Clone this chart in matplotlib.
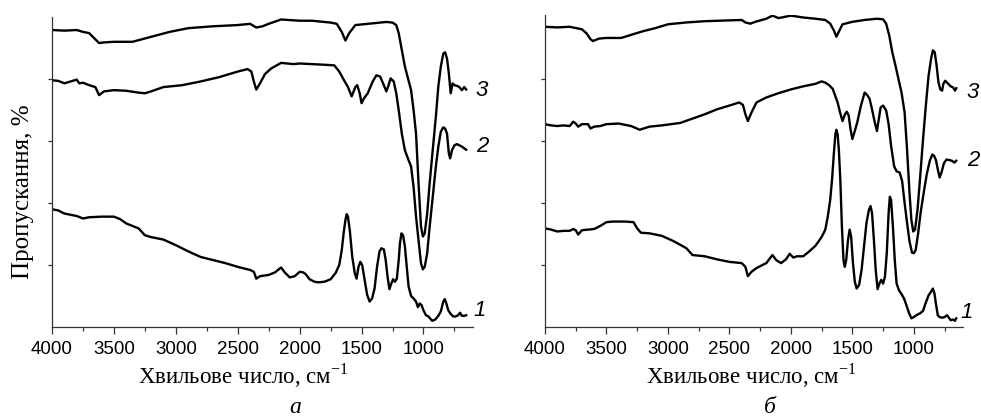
import matplotlib
matplotlib.use('Agg')
import matplotlib.pyplot as plt
from matplotlib.ticker import MultipleLocator, FixedLocator
import numpy as np

plt.rcParams['font.family'] = 'Liberation Sans'
plt.rcParams['mathtext.fontset'] = 'custom'
plt.rcParams['mathtext.rm'] = 'Liberation Serif'

# panel a
a3_x = [4000, 3900, 3800, 3750, 3700, 3660, 3620, 3580, 3500, 3350, 3200, 3050, 2900, 2700, 2500, 2400, 2350, 2300,
        2250, 2150, 2000, 1900, 1750, 1700, 1660, 1630, 1600, 1550, 1450, 1300, 1250, 1220, 1200, 1175, 1150, 1125,
        1100, 1080, 1060, 1040, 1020, 1005, 990, 970, 950, 925, 900, 880, 860, 840, 825, 810, 795, 780, 765, 750,
        730, 710, 690, 670, 655]
a3_y = [4.79, 4.78, 4.79, 4.76, 4.74, 4.66, 4.58, 4.59, 4.60, 4.60, 4.68, 4.76, 4.82, 4.85, 4.87, 4.89, 4.83, 4.85,
        4.89, 4.96, 4.94, 4.94, 4.91, 4.89, 4.76, 4.62, 4.74, 4.87, 4.89, 4.92, 4.91, 4.87, 4.74, 4.47, 4.20, 4.01,
        3.82, 3.50, 3.12, 2.32, 1.62, 1.46, 1.51, 1.83, 2.32, 2.86, 3.39, 3.88, 4.20, 4.41, 4.43, 4.33, 4.09, 3.77,
        3.93, 3.90, 3.89, 3.87, 3.82, 3.87, 3.83]

a2_x = [4000, 3950, 3900, 3850, 3800, 3780, 3750, 3700, 3650, 3620, 3580, 3500, 3400, 3300, 3250, 3200, 3100, 2950,
        2800, 2650, 2500, 2420, 2390, 2370, 2350, 2320, 2280, 2230, 2150, 2050, 2000, 1900, 1800, 1720, 1680, 1650,
        1610, 1580, 1550, 1535, 1515, 1500, 1480, 1450, 1410, 1380, 1350, 1320, 1300, 1285, 1265, 1240, 1220, 1200,
        1175, 1150, 1120, 1100, 1080, 1060, 1040, 1020, 1005, 990, 970, 950, 925, 900, 880, 860, 840, 825, 810, 795,
        785, 770, 750, 730, 710, 690, 670, 655]
a2_y = [3.98, 3.97, 3.93, 3.96, 3.99, 3.93, 3.94, 3.90, 3.87, 3.74, 3.80, 3.82, 3.81, 3.78, 3.77, 3.80, 3.87, 3.90,
        3.96, 4.03, 4.12, 4.16, 4.12, 3.96, 3.83, 3.93, 4.08, 4.17, 4.26, 4.24, 4.25, 4.24, 4.23, 4.22, 4.12, 4.01,
        3.87, 3.72, 3.87, 3.90, 3.77, 3.61, 3.69, 3.77, 3.96, 4.06, 4.04, 3.90, 3.80, 3.88, 4.01, 3.96, 3.77, 3.50,
        3.12, 2.85, 2.69, 2.59, 2.26, 1.78, 1.40, 1.03, 0.93, 0.97, 1.19, 1.62, 2.10, 2.59, 2.91, 3.15, 3.22, 3.20,
        3.12, 2.80, 2.72, 2.85, 2.93, 2.95, 2.93, 2.91, 2.88, 2.86]

a1_x = [4000, 3950, 3900, 3850, 3800, 3750, 3700, 3600, 3500, 3450, 3400, 3350, 3300, 3250, 3200, 3100, 3000, 2900,
        2800, 2700, 2600, 2500, 2400, 2370, 2350, 2320, 2250, 2200, 2150, 2120, 2080, 2040, 2000, 1970, 1950, 1920,
        1880, 1850, 1800, 1750, 1710, 1680, 1660, 1645, 1630, 1620, 1610, 1595, 1575, 1555, 1540, 1525, 1510, 1495,
        1475, 1455, 1435, 1415, 1395, 1375, 1355, 1340, 1320, 1305, 1290, 1275, 1260, 1245, 1230, 1215, 1200, 1190,
        1178, 1165, 1150, 1135, 1120, 1100, 1080, 1060, 1045, 1030, 1015, 1000, 980, 960, 930, 905, 880, 860, 840,
        828, 815, 800, 780, 760, 740, 720, 705, 690, 670, 655]
a1_y = [1.90, 1.88, 1.83, 1.81, 1.79, 1.75, 1.77, 1.78, 1.78, 1.74, 1.67, 1.63, 1.59, 1.48, 1.45, 1.41, 1.32, 1.22,
        1.13, 1.08, 1.03, 0.97, 0.92, 0.89, 0.78, 0.82, 0.84, 0.88, 0.96, 0.88, 0.80, 0.82, 0.89, 0.88, 0.85, 0.77,
        0.73, 0.72, 0.73, 0.77, 0.87, 1.00, 1.24, 1.51, 1.73, 1.82, 1.78, 1.56, 1.13, 0.87, 0.78, 0.97, 1.05, 1.00,
        0.76, 0.52, 0.41, 0.46, 0.62, 0.97, 1.22, 1.27, 1.25, 1.08, 0.81, 0.61, 0.70, 0.77, 0.73, 0.78, 1.08, 1.35,
        1.51, 1.48, 1.30, 0.97, 0.65, 0.50, 0.46, 0.41, 0.32, 0.38, 0.35, 0.27, 0.19, 0.17, 0.10, 0.12, 0.18, 0.25,
        0.41, 0.45, 0.38, 0.27, 0.21, 0.17, 0.17, 0.19, 0.23, 0.18, 0.18, 0.19]

# panel b
b3_x = [4000, 3900, 3800, 3750, 3700, 3660, 3630, 3610, 3560, 3500, 3380, 3300, 3200, 3100, 3000, 2850, 2700, 2550,
        2400, 2370, 2330, 2290, 2200, 2150, 2100, 2000, 1900, 1800, 1720, 1680, 1650, 1630, 1610, 1580, 1500, 1400,
        1300, 1250, 1225, 1200, 1175, 1150, 1125, 1100, 1075, 1055, 1035, 1020, 1005, 990, 970, 950, 925, 900, 880,
        860, 845, 830, 815, 800, 785, 770, 760, 745, 720, 700, 680, 665, 655]
b3_y = [4.84, 4.83, 4.84, 4.82, 4.80, 4.73, 4.64, 4.61, 4.65, 4.66, 4.66, 4.71, 4.77, 4.82, 4.88, 4.91, 4.93, 4.94,
        4.95, 4.91, 4.89, 4.92, 4.97, 5.02, 4.98, 5.02, 4.99, 4.97, 4.95, 4.89, 4.78, 4.68, 4.76, 4.88, 4.92, 4.95,
        4.97, 4.96, 4.89, 4.70, 4.43, 4.22, 4.00, 3.78, 3.46, 2.86, 2.16, 1.73, 1.54, 1.57, 1.89, 2.38, 3.03, 3.62,
        4.05, 4.32, 4.46, 4.43, 4.22, 3.95, 3.83, 3.81, 3.92, 3.97, 3.92, 3.88, 3.86, 3.81, 3.85]

b2_x = [4000, 3950, 3900, 3850, 3800, 3770, 3750, 3730, 3700, 3650, 3630, 3600, 3550, 3500, 3400, 3300, 3230, 3150,
        3050, 2900, 2800, 2700, 2600, 2500, 2420, 2390, 2370, 2350, 2320, 2280, 2200, 2100, 2000, 1900, 1800, 1750,
        1720, 1690, 1660, 1640, 1620, 1600, 1580, 1560, 1545, 1530, 1515, 1500, 1480, 1460, 1430, 1400, 1380, 1360,
        1340, 1320, 1300, 1285, 1270, 1250, 1225, 1205, 1185, 1160, 1140, 1115, 1095, 1075, 1055, 1035, 1015, 1000,
        985, 965, 945, 920, 895, 870, 850, 835, 820, 805, 790, 775, 755, 735, 710, 690, 670, 655]
b2_y = [3.27, 3.25, 3.24, 3.25, 3.24, 3.31, 3.28, 3.23, 3.27, 3.27, 3.20, 3.23, 3.24, 3.27, 3.28, 3.24, 3.18, 3.23,
        3.25, 3.29, 3.36, 3.43, 3.51, 3.57, 3.62, 3.58, 3.43, 3.32, 3.46, 3.62, 3.70, 3.77, 3.83, 3.88, 3.92, 3.96,
        3.94, 3.90, 3.84, 3.73, 3.62, 3.46, 3.32, 3.43, 3.47, 3.41, 3.19, 3.03, 3.16, 3.30, 3.57, 3.78, 3.74, 3.68,
        3.51, 3.32, 3.16, 3.35, 3.54, 3.57, 3.49, 3.27, 2.92, 2.59, 2.51, 2.49, 2.35, 2.00, 1.68, 1.38, 1.20, 1.19,
        1.24, 1.51, 1.84, 2.16, 2.46, 2.68, 2.78, 2.76, 2.69, 2.54, 2.41, 2.49, 2.64, 2.70, 2.69, 2.68, 2.65, 2.68]

b1_x = [4000, 3950, 3900, 3850, 3800, 3770, 3750, 3730, 3700, 3650, 3600, 3550, 3500, 3450, 3350, 3280, 3250, 3220,
        3150, 3050, 2950, 2850, 2800, 2700, 2600, 2500, 2400, 2370, 2350, 2320, 2280, 2200, 2150, 2120, 2080, 2040,
        2010, 1980, 1950, 1900, 1850, 1800, 1750, 1720, 1700, 1680, 1665, 1650, 1638, 1630, 1620, 1610, 1598, 1585,
        1572, 1562, 1550, 1535, 1522, 1510, 1495, 1480, 1465, 1445, 1425, 1405, 1385, 1365, 1352, 1340, 1325, 1310,
        1295, 1280, 1265, 1250, 1235, 1220, 1205, 1195, 1185, 1170, 1155, 1140, 1120, 1100, 1080, 1060, 1040, 1020,
        1000, 980, 950, 925, 905, 880, 860, 845, 832, 820, 805, 790, 770, 750, 730, 715, 700, 680, 665, 655]
b1_y = [1.59, 1.57, 1.54, 1.55, 1.55, 1.58, 1.56, 1.49, 1.56, 1.57, 1.58, 1.63, 1.69, 1.70, 1.70, 1.69, 1.59, 1.52,
        1.51, 1.47, 1.38, 1.27, 1.16, 1.14, 1.09, 1.05, 1.03, 0.97, 0.82, 0.89, 0.95, 1.03, 1.16, 1.08, 1.03, 1.09,
        1.18, 1.12, 1.14, 1.14, 1.22, 1.31, 1.45, 1.57, 1.78, 2.05, 2.38, 2.81, 3.11, 3.18, 3.11, 2.86, 2.38, 1.62,
        1.08, 0.97, 1.08, 1.41, 1.57, 1.46, 1.03, 0.73, 0.62, 0.68, 0.92, 1.30, 1.68, 1.89, 1.95, 1.84, 1.41, 0.92,
        0.61, 0.70, 0.76, 0.70, 0.81, 1.19, 1.84, 2.10, 2.05, 1.62, 1.08, 0.70, 0.59, 0.53, 0.46, 0.35, 0.23, 0.14,
        0.16, 0.19, 0.22, 0.26, 0.38, 0.51, 0.57, 0.62, 0.54, 0.37, 0.19, 0.16, 0.15, 0.16, 0.19, 0.15, 0.11, 0.12,
        0.10, 0.14]

curve_labels = ['1', '2', '3']
panel_names = ['а', 'б']

W, H = 981, 418
fig = plt.figure(figsize=(W / 100, H / 100), dpi=100)


def px(x, y):
    return x / W, 1 - y / H


panels = [
    dict(rect=[52 / W, 91 / H, 421 / W, 310 / H], ytop=5.0,
         curves=[(a1_x, a1_y), (a2_x, a2_y), (a3_x, a3_y)],
         lab_pos=[(480, 310), (482, 147), (482, 90)], xlab=243, cap=295),
    dict(rect=[545 / W, 91 / H, 418 / W, 312 / H], ytop=5.03,
         curves=[(b1_x, b1_y), (b2_x, b2_y), (b3_x, b3_y)],
         lab_pos=[(967, 312), (973, 160), (973, 92)], xlab=751, cap=770),
]

for i, p in enumerate(panels):
    ax = fig.add_axes(p['rect'])
    for cx, cy in p['curves']:
        ax.plot(cx, cy, color='black', lw=1.7)
    ax.set_xlim(4000, 600)
    ax.set_ylim(0, p['ytop'])
    ax.xaxis.set_major_locator(MultipleLocator(500))
    ax.xaxis.set_minor_locator(MultipleLocator(250))
    ax.yaxis.set_major_locator(FixedLocator([1, 2, 3, 4]))
    ax.set_yticklabels([])
    ax.spines['top'].set_visible(False)
    ax.spines['right'].set_visible(False)
    for s in ['left', 'bottom']:
        ax.spines[s].set_linewidth(0.9)
        ax.spines[s].set_color('#333333')
    ax.tick_params(axis='x', which='major', direction='out', length=5, width=0.9,
                   color='#333333', labelsize=13.5, pad=5)
    ax.tick_params(axis='x', which='minor', direction='out', length=3, width=0.9, color='#333333')
    ax.tick_params(axis='y', which='major', direction='out', length=3, width=0.9, color='#333333')
    ax.set_xticks([4000, 3500, 3000, 2500, 2000, 1500, 1000])

    for lab, (lx, ly) in zip(curve_labels, p['lab_pos']):
        fig.text(*px(lx, ly), lab, ha='center', va='center', fontsize=16, style='italic')

    fig.text(*px(p['xlab'], 383), 'Хвильове число, см$^{-1}$', ha='center', va='baseline',
             fontsize=16.5, family='Liberation Serif')
    fig.text(*px(p['cap'], 413), panel_names[i], ha='center', va='baseline',
             fontsize=17, family='Liberation Serif', style='italic')

fig.text(*px(23, 192), 'Пропускання, %', rotation=90, ha='center', va='center',
         fontsize=18, family='Liberation Serif')

fig.savefig('out.png', dpi=100)
